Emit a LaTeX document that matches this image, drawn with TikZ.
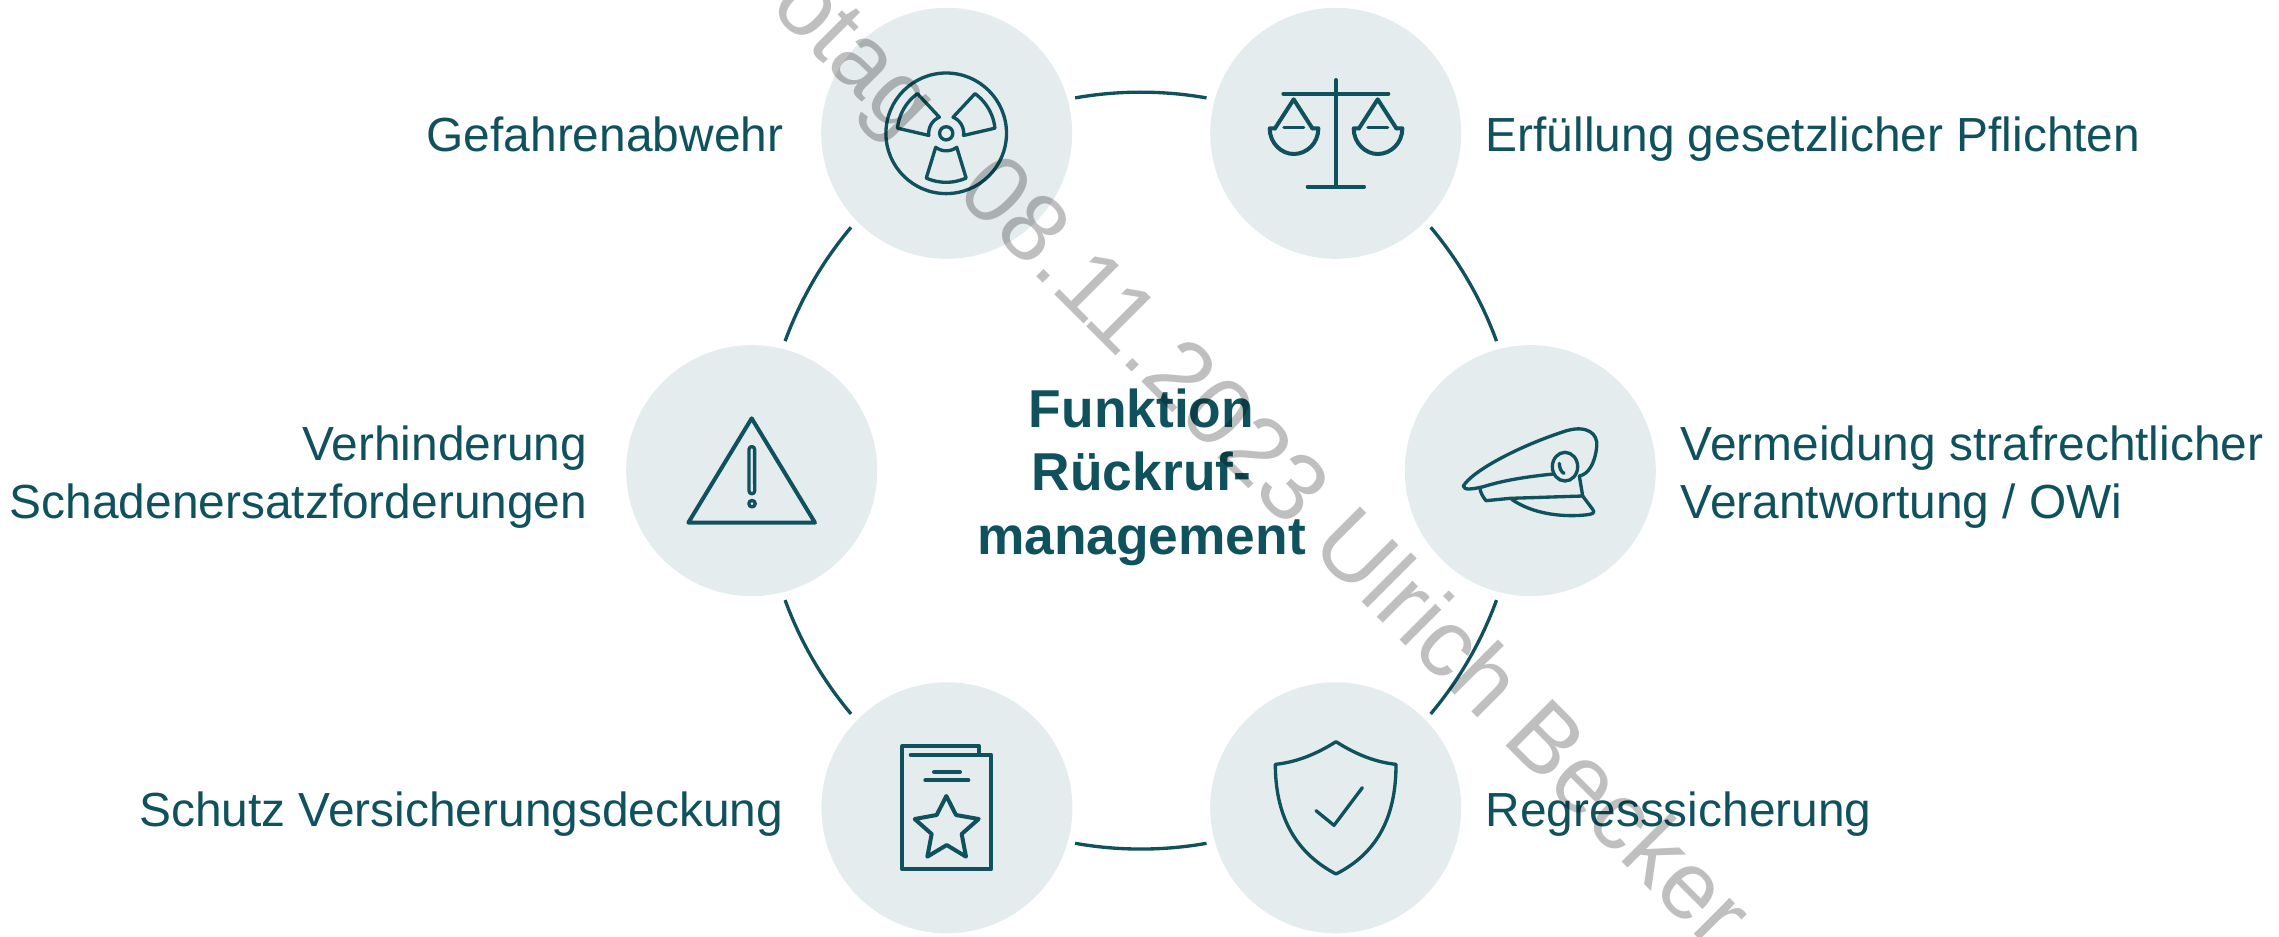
\documentclass[tikz,border=0pt]{standalone}
\usepackage{fontspec}
\setmainfont{Liberation Sans}
\definecolor{teal}{HTML}{0F525E}
\definecolor{discfill}{HTML}{E4ECEE}
\tikzset{
  disc/.style={circle,fill=discfill,draw=none,minimum size=188.25pt,inner sep=0pt},
  ringline/.style={draw=teal,line width=2.5pt,bend left=10,looseness=.86},
  icon/.style={draw=teal,line width=2.5pt,line join=round,line cap=round},
  iconthick/.style={draw=teal,line width=3pt,line join=round,line cap=round},
  lbl/.style={text=teal,inner sep=0pt,font=\fontsize{35.9}{43.5}\selectfont},
  centerlbl/.style={text=teal,inner sep=0pt,align=center,font=\bfseries\fontsize{40}{48}\selectfont},
  wmark/.style={text=black,opacity=.25,inner sep=0pt,rotate=-45,font=\fontsize{72}{86}\selectfont},
  zoomed/.style={x=.25pt,y=-.25pt}
}
\begin{document}
\begin{tikzpicture}[x=.75pt,y=-.75pt]
\useasboundingbox (0,0) rectangle (2279,936);
\clip (0,0) rectangle (2279,936);
% discs
\node[disc] (tl) at (946.7,133.3) {};
\node[disc] (tr) at (1335.7,133.3) {};
\node[disc] (rr) at (1530.3,470.6) {};
\node[disc] (ll) at (751.7,470.6) {};
\node[disc] (bl) at (946.9,807.8) {};
\node[disc] (br) at (1335.7,807.8) {};
% ring ends
\coordinate (a20) at (1496.5,341.1);
\coordinate (a40) at (1430.7,227.3);
\coordinate (a80) at (1206.5,97.9);
\coordinate (a100) at (1075.1,97.9);
\coordinate (a140) at (851.0,227.3);
\coordinate (a160) at (785.1,341.1);
\coordinate (a200) at (785.1,600.1);
\coordinate (a220) at (851.0,713.9);
\coordinate (a260) at (1075.1,843.3);
\coordinate (a280) at (1206.5,843.3);
\coordinate (a320) at (1430.7,713.9);
\coordinate (a340) at (1496.5,600.1);
\draw[ringline] (a100) to (a80);
\draw[ringline] (a40) to (a20);
\draw[ringline] (a340) to (a320);
\draw[ringline] (a280) to (a260);
\draw[ringline] (a220) to (a200);
\draw[ringline] (a160) to (a140);
% radiation icon
\begin{scope}[shift={(946.2,133.3)}]
\draw[icon] (0,0) circle[radius=60.3*.75pt];
\draw[icon] (0,0) circle[radius=6.6*.75pt];
\foreach \t in {-150,-30,90}{
  \draw[icon] plot[domain={\t-24}:{\t+24},samples=13] (\x:49) -- plot[domain={\t+37}:{\t-37},samples=13] (\x:17.5) -- cycle;
}
\end{scope}
% scales icon
\begin{scope}[shift={(1200,0)},zoomed]
\draw[iconthick] (408,240) -- (408,560);
\draw[iconthick] (250,281) -- (565,281);
\draw[iconthick] (323,560) -- (492,560);
\foreach \d in {0,252}{
  \begin{scope}[xshift=\d*.25pt]
  \draw[iconthick] (225,385) -- (281,298) -- (337,385);
  \draw[icon] (252,383) -- (311,383);
  \draw[iconthick] (225,385) -- (209,385) .. controls (209,430) and (245,462) .. (281,462) .. controls (320,462) and (355,430) .. (355,385) -- (337,385);
  \end{scope}
}
\end{scope}
% cap icon
\begin{scope}[shift={(1400,340)},zoomed]
\draw[icon] (250,440) .. controls (220,447) and (190,452) .. (190,438) .. controls (215,395) and (350,320) .. (500,272) .. controls (560,255) and (595,280) .. (590,320) .. controls (585,370) and (565,403) .. (538,408);
\draw[icon] (250,440) .. controls (320,418) and (400,408) .. (460,402);
\draw[icon] (495,380) ellipse[x radius=38,y radius=43];
\draw[icon] (478,370) .. controls (478,385) and (484,396) .. (492,400);
\draw[icon] (538,408) -- (548,468) -- (330,475) -- (258,482) .. controls (248,470) and (243,460) .. (240,447);
\draw[icon] (548,468) -- (578,508) .. controls (588,520) and (575,523) .. (555,525) .. controls (480,532) and (395,520) .. (335,478);
\end{scope}
% warning icon
\begin{scope}[shift={(620,340)},zoomed]
\draw[iconthick] (395,235) -- (585,548) -- (205,548) -- cycle;
\draw[icon] (387,328) arc[start angle=180,end angle=0,radius=2.1pt] -- (404,453) arc[start angle=0,end angle=-180,radius=2.1pt] -- cycle;
\draw[icon] (396,491) circle[radius=2.4pt];
\end{scope}
% document icon
\begin{scope}[shift={(820,680)},zoomed]
\draw[iconthick] (477,222) -- (477,198) -- (247,198) -- (247,568) -- (513,568) -- (513,224) -- (272,224);
\draw[iconthick] (342,276) -- (420,276);
\draw[iconthick] (316,301) -- (445,301);
\draw[iconthick] (379,348) -- (408,405) -- (476,417) -- (425,462) -- (438,530) -- (380,495) -- (322,530) -- (335,462) -- (284,417) -- (350,405) -- cycle;
\end{scope}
% shield icon
\begin{scope}[shift={(1200,680)},zoomed]
\draw[icon] (408,185) .. controls (470,225) and (530,247) .. (588,253) .. controls (588,400) and (540,515) .. (408,582) .. controls (280,515) and (226,400) .. (226,253) .. controls (285,247) and (345,225) .. (408,185) -- cycle;
\draw[icon] (348,392) -- (402,436) -- (487,323);
\end{scope}
% labels
\node[lbl,anchor=base east] (t1) at (783.5,151.5) {Gefahrenabwehr};
\node[lbl,anchor=base west] (t2) at (1485.5,151.5) {Erfüllung gesetzlicher Pflichten};
\node[lbl,anchor=base east] (t3a) at (587.5,460) {Verhinderung};
\node[lbl,anchor=base east] (t3b) at (587.5,518) {Schadenersatzforderungen};
\node[lbl,anchor=base west] (t4a) at (1680.5,460) {Vermeidung strafrechtlicher};
\node[lbl,anchor=base west] (t4b) at (1680.5,518) {Verantwortung / OWi};
\node[lbl,anchor=base east] (t5) at (783.5,826) {Schutz Versicherungsdeckung};
\node[lbl,anchor=base west] (t6) at (1485.5,826) {Regresssicherung};
\node[centerlbl,anchor=base] (m1) at (1141.5,427) {Funktion};
\node[centerlbl,anchor=base] (m2) at (1141.5,490.5) {Rückruf-};
\node[centerlbl,anchor=base] (m3) at (1141.5,554) {management};
% watermark
\node[wmark,anchor=base west] (w) at (768,8) {otag\hspace{.526em} 08.11.2023 Ulrich Becker};
\end{tikzpicture}
\end{document}
